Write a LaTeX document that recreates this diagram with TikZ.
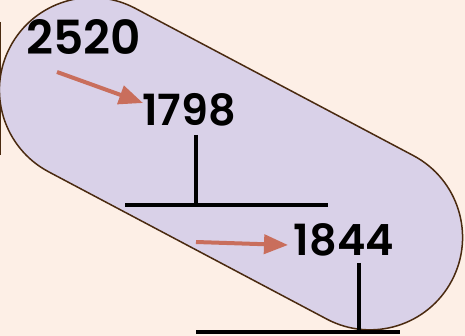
\documentclass[tikz,border=0pt]{standalone}
\usepackage{fontspec}
\setmainfont{Poppins}[BoldFont={Poppins SemiBold}]
\usetikzlibrary{arrows.meta}
\definecolor{bg}{HTML}{FDEFE6}
\definecolor{lav}{HTML}{D9D1E8}
\definecolor{edgebrown}{HTML}{4A2A10}
\definecolor{terra}{HTML}{C96E5C}
\begin{document}
\begin{tikzpicture}[x=1pt,y=-1pt,
  num/.style={font=\bfseries\fontsize{43}{43}\selectfont, inner sep=0pt},
  bignum/.style={font=\bfseries\fontsize{47}{47}\selectfont, inner sep=0pt},
  bar/.style={line width=4pt, black},
  arr/.style={terra, line width=4pt, -{Triangle[length=24pt,width=19pt]}}]
\fill[bg] (0,0) rectangle (465,336);
\useasboundingbox (0,0) rectangle (465,336);
\draw[edgebrown, line width=1.5pt] (0.7,22) -- (0.7,155);
\begin{scope}[shift={(231,163.7)}, rotate=-27.9]
  \draw[edgebrown, fill=lav, line width=1.5pt, rounded corners=92.5pt] (-249.85,-92.5) rectangle (249.85,92.5);
\end{scope}
\node[bignum] (n2520) at (84,37) {2520};
\node[num] (n1798) at (189,110) {1798};
\node[num] (n1844) at (344,240) {1844};
\coordinate (a1s) at (57,72);
\coordinate (a1e) at (143,103);
\coordinate (a2s) at (196,242);
\coordinate (a2e) at (288,245);
\draw[arr] (a1s) -- (a1e);
\draw[arr] (a2s) -- (a2e);
\coordinate (v1t) at (196,135);
\coordinate (v1b) at (196,205);
\coordinate (h1l) at (125,205);
\coordinate (h1r) at (328,205);
\coordinate (v2t) at (359,263);
\coordinate (v2b) at (359,332);
\coordinate (h2l) at (196,332);
\coordinate (h2r) at (400,332);
\draw[bar] (v1t) -- (v1b);
\draw[bar] (h1l) -- (h1r);
\draw[bar] (v2t) -- (v2b);
\draw[bar] (h2l) -- (h2r);
\end{tikzpicture}
\end{document}
